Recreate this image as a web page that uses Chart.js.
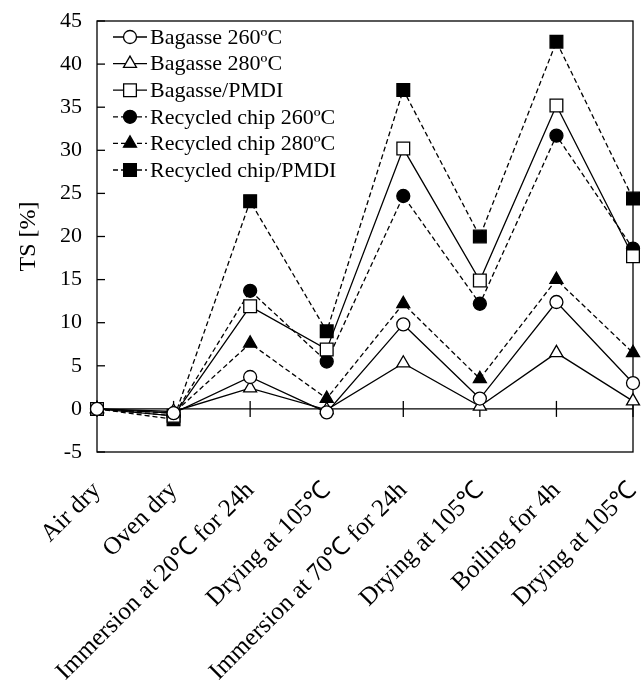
<!DOCTYPE html>
<html>
<head>
<meta charset="utf-8">
<script src="https://cdn.jsdelivr.net/npm/chart.js@4.4.1/dist/chart.umd.min.js"></script>
<style>
  html, body { margin: 0; padding: 0; background: #fff; }
</style>
</head>
<body>
<canvas id="tsChart" width="644" height="693"></canvas>
<script>
const categories = ['Air dry', 'Oven dry', 'Immersion at 20\u2103 for 24h', 'Drying at 105\u2103',
  'Immersion at 70\u2103 for 24h', 'Drying at 105\u2103', 'Boiling for 4h', 'Drying at 105\u2103'];

const bagasse260   = [0, -0.5, 3.7, -0.4, 9.8, 1.2, 12.4, 3.0];
const bagasse280   = [0, -0.3, 2.4, -0.1, 5.3, 0.3, 6.5, 0.9];
const bagassePMDI  = [0, -0.8, 11.9, 6.9, 30.2, 14.9, 35.2, 17.7];
const recycled260  = [0, -0.8, 13.7, 5.5, 24.7, 12.2, 31.7, 18.6];
const recycled280  = [0, -0.5, 7.6, 1.2, 12.2, 3.5, 15.0, 6.5];
const recycledPMDI = [0, -1.2, 24.1, 9.0, 37.0, 20.0, 42.6, 24.4];

const yMin = -5, yMax = 45, yStep = 5;

const FONT = '"Liberation Serif", "Times New Roman", serif';

function series(label, data, style, filled, dashed, radius) {
  return {
    label, data,
    borderColor: '#000',
    borderWidth: 1.3,
    borderDash: dashed ? [5, 3] : [],
    pointStyle: style,
    pointRadius: radius,
    pointHoverRadius: radius,
    pointBorderWidth: 1.3,
    pointBorderColor: '#000',
    pointBackgroundColor: filled ? '#000' : '#fff',
    tension: 0,
    fill: false
  };
}

// frame, zero line and tick marks
const framePlugin = {
  id: 'frame',
  beforeDatasetsDraw(chart) {
    const { ctx, chartArea: a, scales: { x, y } } = chart;
    ctx.save();
    ctx.strokeStyle = '#000';
    ctx.lineWidth = 1.3;
    ctx.setLineDash([]);
    ctx.strokeRect(a.left, a.top, a.right - a.left, a.bottom - a.top);
    // inward y ticks
    for (let v = yMin; v <= yMax; v += yStep) {
      const py = y.getPixelForValue(v);
      ctx.beginPath(); ctx.moveTo(a.left, py); ctx.lineTo(a.left + 8, py); ctx.stroke();
    }
    // zero line with crossing ticks
    const y0 = y.getPixelForValue(0);
    ctx.beginPath(); ctx.moveTo(a.left, y0); ctx.lineTo(a.right, y0); ctx.stroke();
    categories.forEach((c, i) => {
      const px = x.getPixelForValue(i);
      ctx.beginPath(); ctx.moveTo(px, y0 - 8); ctx.lineTo(px, y0 + 8); ctx.stroke();
    });
    ctx.restore();
  }
};

// legend with line + marker sample
const legendPlugin = {
  id: 'lineLegend',
  afterDraw(chart) {
    const { ctx, chartArea: a } = chart;
    ctx.save();
    chart.data.datasets.forEach((ds, i) => {
      const cy = a.top + 16 + i * 26.6;
      const x0 = a.left + 16, x1 = a.left + 50, mx = (x0 + x1) / 2;
      ctx.strokeStyle = '#000';
      ctx.lineWidth = 1.3;
      ctx.setLineDash(ds.borderDash);
      ctx.beginPath(); ctx.moveTo(x0, cy); ctx.lineTo(x1, cy); ctx.stroke();
      ctx.setLineDash([]);
      ctx.fillStyle = ds.pointBackgroundColor;
      ctx.strokeStyle = '#000';
      Chart.helpers.drawPoint(ctx, { pointStyle: ds.pointStyle, radius: ds.pointRadius, rotation: 0, borderWidth: 1.3 }, mx, cy);
      ctx.fillStyle = '#000';
      ctx.font = '22px ' + FONT;
      ctx.textBaseline = 'middle';
      ctx.textAlign = 'left';
      ctx.fillText(ds.label, x1 + 3, cy + 1);
    });
    ctx.restore();
  }
};

new Chart(document.getElementById('tsChart'), {
  type: 'line',
  data: {
    labels: categories,
    datasets: [
      series('Bagasse 260\u00baC', bagasse260, 'circle', false, false, 6.5),
      series('Bagasse 280\u00baC', bagasse280, 'triangle', false, false, 7.5),
      series('Bagasse/PMDI', bagassePMDI, 'rect', false, false, 9),
      series('Recycled chip 260\u00baC', recycled260, 'circle', true, true, 6.5),
      series('Recycled chip 280\u00baC', recycled280, 'triangle', true, true, 7.5),
      series('Recycled chip/PMDI', recycledPMDI, 'rect', true, true, 9)
    ]
  },
  options: {
    responsive: false,
    animation: false,
    layout: { padding: { left: 0, right: 11, top: 21, bottom: 0 } },
    plugins: { legend: { display: false }, tooltip: { enabled: false } },
    scales: {
      x: {
        offset: false,
        grid: { display: false, drawTicks: false },
        border: { display: false },
        ticks: {
          color: '#000', font: { family: FONT, size: 25 },
          minRotation: 45, maxRotation: 45, padding: 24, autoSkip: false
        },
        afterFit(s) { s.height = 241; s.paddingLeft = 0; s.paddingRight = 0; }
      },
      y: {
        min: yMin, max: yMax,
        grid: { display: false, drawTicks: false },
        border: { display: false },
        ticks: { stepSize: yStep, color: '#000', font: { family: FONT, size: 22 }, padding: 15 },
        title: { display: true, text: 'TS [%]', color: '#000', font: { family: FONT, size: 24 }, padding: { top: 14, bottom: 0 } },
        afterFit(s) { s.width = 97; s.paddingTop = 0; s.paddingBottom = 0; }
      }
    }
  },
  plugins: [framePlugin, legendPlugin]
});
</script>
</body>
</html>
